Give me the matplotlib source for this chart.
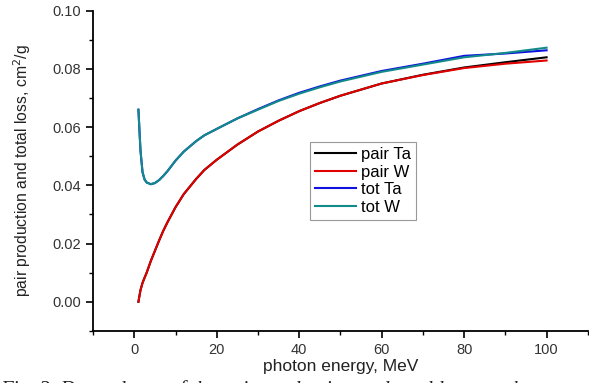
import numpy as np
import matplotlib.pyplot as plt
from matplotlib.ticker import MultipleLocator

plt.rcParams['font.family'] = ['Liberation Sans', 'DejaVu Sans']

# photon energy, MeV
energy = [1, 1.5, 2, 2.5, 3, 4, 5, 6, 7, 8, 10, 12, 15, 17, 20, 25, 30, 35, 40, 45,
          50, 60, 70, 80, 90, 100]

pair_ta = [0.0, 0.0040, 0.0065, 0.0083, 0.0100, 0.0140, 0.0175, 0.0210, 0.0243, 0.0272,
           0.0325, 0.0370, 0.0422, 0.0453, 0.0488, 0.0540, 0.0585, 0.0622, 0.0655, 0.0683,
           0.0708, 0.0750, 0.0780, 0.0805, 0.0823, 0.0840]
pair_w = [0.0, 0.0040, 0.0065, 0.0083, 0.0100, 0.0140, 0.0175, 0.0210, 0.0243, 0.0272,
          0.0325, 0.0370, 0.0422, 0.0453, 0.0488, 0.0540, 0.0585, 0.0622, 0.0655, 0.0683,
          0.0708, 0.0750, 0.0779, 0.0803, 0.0818, 0.0829]
tot_ta = [0.0660, 0.0520, 0.0445, 0.0420, 0.0410, 0.0404, 0.0408, 0.0418, 0.0432, 0.0448,
          0.0485, 0.0516, 0.0552, 0.0572, 0.0594, 0.0630, 0.0662, 0.0692, 0.0718, 0.0740,
          0.0760, 0.0793, 0.0818, 0.0845, 0.0853, 0.0864]
tot_w = [0.0660, 0.0520, 0.0445, 0.0420, 0.0410, 0.0404, 0.0408, 0.0418, 0.0432, 0.0448,
         0.0485, 0.0516, 0.0552, 0.0572, 0.0594, 0.0630, 0.0660, 0.0690, 0.0715, 0.0737,
         0.0757, 0.0790, 0.0815, 0.0840, 0.0855, 0.0873]

fig = plt.figure(figsize=(5.89, 3.83), dpi=100)
ax = fig.add_axes([0.158, 0.136, 0.84, 0.836])

ax.plot(energy, pair_ta, color='black', lw=1.5, label='pair Ta')
ax.plot(energy, pair_w, color='#e00000', lw=1.5, label='pair W')
ax.plot(energy, tot_ta, color='#1010e0', lw=1.5, label='tot Ta')
ax.plot(energy, tot_w, color='#128a8a', lw=1.5, label='tot W')

ax.set_xlim(-10, 110)
ax.set_ylim(-0.01, 0.10)
ax.set_xticks([0, 20, 40, 60, 80, 100])
ax.set_yticks([0.0, 0.02, 0.04, 0.06, 0.08, 0.10])
ax.yaxis.set_major_formatter(plt.FormatStrFormatter('%.2f'))
ax.xaxis.set_minor_locator(MultipleLocator(10))
ax.yaxis.set_minor_locator(MultipleLocator(0.01))

for s in ['top', 'right']:
    ax.spines[s].set_visible(False)
for s in ['left', 'bottom']:
    ax.spines[s].set_linewidth(1.3)
ax.tick_params(which='major', direction='out', length=5, width=1.2,
               labelsize=10.5, labelcolor='#333333')
ax.tick_params(which='minor', direction='out', length=3, width=1.0)

ax.set_xlabel('photon energy, MeV', fontsize=12.5, color='#222222', labelpad=2)
ax.set_ylabel('pair production and total loss, cm$^2$/g', fontsize=11.3,
              color='#222222', labelpad=14)

leg = ax.legend(loc='upper left', bbox_to_anchor=(0.438, 0.59), fontsize=12,
                fancybox=False, framealpha=1, edgecolor='#999999',
                handlelength=2.5, handletextpad=0.3, labelspacing=0.15,
                borderpad=0.3, borderaxespad=0)
leg.get_frame().set_linewidth(0.8)

# figure caption, mostly cropped away at the bottom edge as in the source
fig.text(0.0, 0.008, 'Fig. 3. Dependence of the pair production and total loss on photon energy',
         fontsize=15, style='italic', family='Liberation Serif', va='top', ha='left',
         color='#222222')

fig.savefig('out.png', dpi=100)
